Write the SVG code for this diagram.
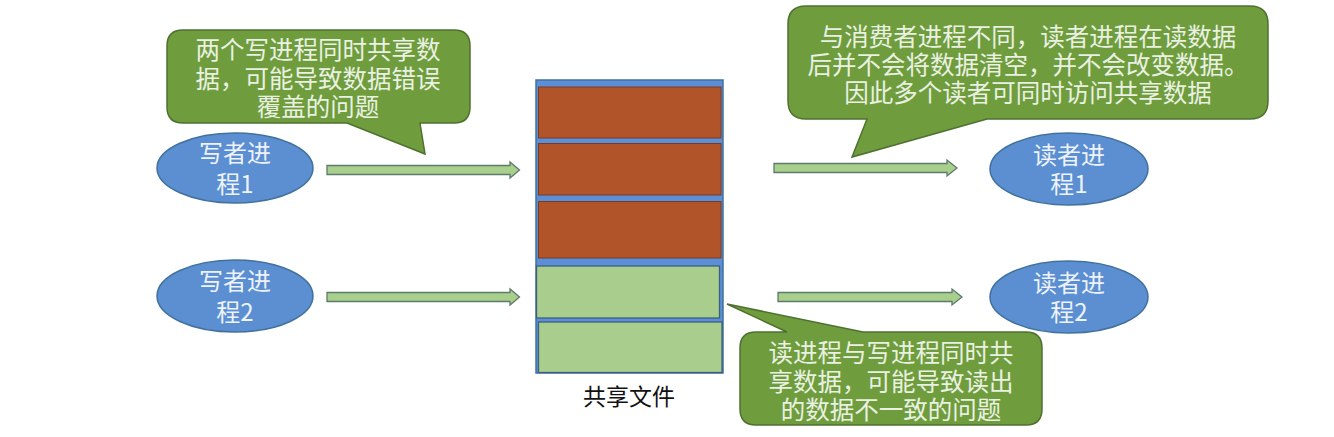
<svg xmlns="http://www.w3.org/2000/svg" width="1334" height="437" viewBox="0 0 1334 437">
<style>
.bubble{fill:#6f9d3d;stroke:#4f7030;stroke-width:1.5}
.btxt{font-family:"Noto Sans CJK SC","Noto Sans",sans-serif;font-size:24.5px;fill:#eaf1e2;text-anchor:middle}
.ell{fill:#5b8fd2;stroke:#41719c;stroke-width:1.5}
.etxt{font-family:"Noto Sans CJK SC","Noto Sans",sans-serif;font-size:24px;fill:#eef3fb;text-anchor:middle}
.arrow{fill:#a9cf8c;stroke:#5e7a6c;stroke-width:1.3}
.red{fill:#b1542a;stroke:#7a3a20;stroke-width:1}
.grn{fill:#a9cd8c;stroke:#3e5e7e;stroke-width:1.3}
.lbl{font-family:"Noto Sans CJK SC","Noto Sans",sans-serif;font-size:23px;fill:#111;text-anchor:middle}
</style>
<rect width="1334" height="437" fill="#ffffff"/>
<g id="connectors">
<polygon class="arrow" points="327,165.5 510,165.5 510,162 519.5,170 510,178 510,174.5 327,174.5"/>
<polygon class="arrow" points="327,292.5 510,292.5 510,289 519.5,297 510,305 510,301.5 327,301.5"/>
<polygon class="arrow" points="774,163.5 947,163.5 947,160 957,168 947,176 947,172.5 774,172.5"/>
<polygon class="arrow" points="778,292.5 952,292.5 952,289 962,297 952,305 952,301.5 778,301.5"/>
</g>
<g id="writer1">
<ellipse class="ell" cx="235" cy="168" rx="78" ry="35"/>
<text class="etxt" x="235" y="162">写者进</text>
<text class="etxt" x="235" y="193">程1</text>
</g>
<g id="writer2">
<ellipse class="ell" cx="235" cy="296" rx="78" ry="36"/>
<text class="etxt" x="235" y="290">写者进</text>
<text class="etxt" x="235" y="321">程2</text>
</g>
<g id="reader1">
<ellipse class="ell" cx="1069" cy="169" rx="79" ry="36"/>
<text class="etxt" x="1069" y="164">读者进</text>
<text class="etxt" x="1069" y="193">程1</text>
</g>
<g id="reader2">
<ellipse class="ell" cx="1069" cy="297" rx="79" ry="36"/>
<text class="etxt" x="1069" y="292">读者进</text>
<text class="etxt" x="1069" y="321">程2</text>
</g>
<g id="shared-file">
<rect x="536" y="80" width="187" height="293" fill="#5b8fd8" stroke="#41719c" stroke-width="1.5"/>
<rect class="red" x="538.5" y="87" width="182.5" height="51"/>
<rect class="red" x="538.5" y="143.5" width="182.5" height="51.5"/>
<rect class="red" x="538.5" y="201.5" width="182.5" height="56.5"/>
<rect class="grn" x="536.5" y="266" width="183" height="52"/>
<rect class="grn" x="538.5" y="322" width="183.5" height="50.5"/>
<text class="lbl" x="629" y="405">共享文件</text>
</g>
<g id="callout-writers">
<path class="bubble" d="M183,30 H454 Q470,30 470,46 V107 Q470,123 454,123 H420 L425,154 L347,123 H183 Q167,123 167,107 V46 Q167,30 183,30 Z"/>
<text class="btxt" x="318" y="59">两个写进程同时共享数</text>
<text class="btxt" x="318" y="88">据，可能导致数据错误</text>
<text class="btxt" x="318" y="116">覆盖的问题</text>
</g>
<g id="callout-readers">
<path class="bubble" d="M806,6 H1250 Q1268,6 1268,24 V101 Q1268,119 1250,119 H987 L852,157 L867,119 H806 Q788,119 788,101 V24 Q788,6 806,6 Z"/>
<text class="btxt" x="1028" y="46">与消费者进程不同，读者进程在读数据</text>
<text class="btxt" x="1028" y="74">后并不会将数据清空，并不会改变数据。</text>
<text class="btxt" x="1028" y="102">因此多个读者可同时访问共享数据</text>
</g>
<g id="callout-readwrite">
<path class="bubble" d="M756,332 H787 L727,304 L863,332 H1026 Q1042,332 1042,348 V409 Q1042,425 1026,425 H756 Q740,425 740,409 V348 Q740,332 756,332 Z"/>
<text class="btxt" x="891" y="362">读进程与写进程同时共</text>
<text class="btxt" x="891" y="391">享数据，可能导致读出</text>
<text class="btxt" x="891" y="419">的数据不一致的问题</text>
</g>
</svg>
